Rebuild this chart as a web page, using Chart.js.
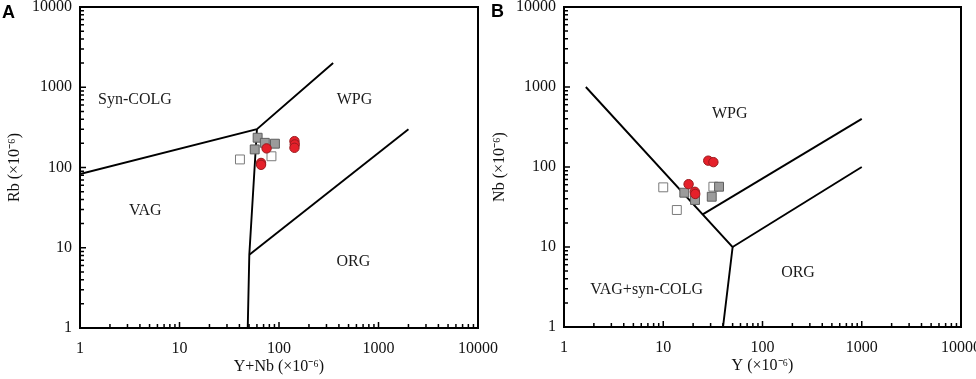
<!DOCTYPE html>
<html><head><meta charset="utf-8">
<script src="https://cdn.jsdelivr.net/npm/chart.js@4.4.0/dist/chart.umd.min.js"></script>
<style>
html,body{margin:0;padding:0;background:#fff;width:976px;height:379px;overflow:hidden;position:relative}
canvas{position:absolute}
#ca{left:-40px;top:-20px}
#cb{left:450px;top:-20px}
.lbl{position:absolute;font:bold 18px 'Liberation Sans',Arial,sans-serif;color:#000;line-height:18px}
</style></head><body>
<canvas id="cb" width="600" height="420"></canvas>
<canvas id="ca" width="600" height="420"></canvas>
<div class="lbl" style="left:2px;top:3px">A</div>
<div class="lbl" style="left:491px;top:2px">B</div>
<script>
// ---- axes ----
const AXIS_MIN = 1, AXIS_MAX = 10000;
const MAJOR_TICKS = [1, 10, 100, 1000, 10000];
const MINOR_MULT = [2, 3, 4, 5, 6, 7, 8, 9];

// ---- Panel A: Rb vs Y+Nb ----
const A_RED_X = [75, 66, 66, 143, 144, 143];
const A_RED_Y = [173, 114, 108, 213, 194, 176];
const A_GRAY_X = [61, 57, 91, 72];
const A_GRAY_Y = [235, 168, 198, 203];
const A_OPEN_X = [40.5, 84];
const A_OPEN_Y = [126, 138];
const A_LINE1_X = [1, 60, 350];
const A_LINE1_Y = [83, 300, 2000];
const A_LINE2_X = [48.5, 50.3, 60];
const A_LINE2_Y = [1, 8.2, 300];
const A_LINE3_X = [50.3, 2000];
const A_LINE3_Y = [8.2, 300];
const A_REGION_TEXT = ['Syn-COLG', 'WPG', 'VAG', 'ORG'];
const A_REGION_X = [3.57, 574, 4.53, 558];
const A_REGION_Y = [693, 693, 29, 6.6];

// ---- Panel B: Nb vs Y ----
const B_RED_X = [28.4, 32, 18, 20.8, 21];
const B_RED_Y = [120, 115, 61, 49, 46];
const B_GRAY_X = [16.3, 20.9, 30.8, 36.5];
const B_GRAY_Y = [47.7, 38.7, 42.5, 56.7];
const B_OPEN_X = [10, 13.7, 32];
const B_OPEN_Y = [55.7, 29, 56.7];
const B_LINE1_X = [1.66, 50, 40];
const B_LINE1_Y = [1000, 10, 1];
const B_LINE2_X = [50, 1000];
const B_LINE2_Y = [10, 100];
const B_LINE3_X = [25, 1000];
const B_LINE3_Y = [25.6, 400];
const B_REGION_TEXT = ['WPG', 'ORG', 'VAG+syn-COLG'];
const B_REGION_X = [46.7, 228, 6.8];
const B_REGION_Y = [469, 4.77, 2.9];

const SERIF = '"Liberation Serif", "Times New Roman", serif';
const zip = (xs, ys) => xs.map((x, i) => ({x, y: ys[i]}));

function pointsDS(xs, ys, kind) {
  const st = {
    red: {pointStyle: 'circle', pointRadius: 4.7, backgroundColor: '#e5202a', borderColor: '#9a1a1e'},
    gray: {pointStyle: 'rect', pointRadius: 6.3, backgroundColor: '#9b9b9b', borderColor: '#5e5e5e'},
    open: {pointStyle: 'rect', pointRadius: 6.3, backgroundColor: '#ffffff', borderColor: '#7a7a7a'}
  }[kind];
  return Object.assign({data: zip(xs, ys), showLine: false, borderWidth: 1, pointHoverRadius: st.pointRadius}, st);
}
function lineDS(xs, ys) {
  return {data: zip(xs, ys), showLine: true, borderColor: '#000', borderWidth: 1.9, pointRadius: 0, fill: false, tension: 0};
}

function decorPlugin(texts, rx, ry) {
  return {
    id: 'decor',
    beforeDatasetsDraw(chart) {
      const {ctx, scales: {x, y}} = chart;
      ctx.save();
      ctx.font = '16px ' + SERIF;
      ctx.fillStyle = '#1a1a1a';
      ctx.textAlign = 'center';
      ctx.textBaseline = 'middle';
      texts.forEach((t, i) => ctx.fillText(t, x.getPixelForValue(rx[i]), y.getPixelForValue(ry[i])));
      ctx.restore();
    },
    afterDatasetsDraw(chart) {
      const {ctx, chartArea: a, scales: {x, y}} = chart;
      ctx.save();
      ctx.strokeStyle = '#000';
      ctx.lineWidth = 1.5;
      ctx.beginPath();
      for (let base = AXIS_MIN; base < AXIS_MAX; base *= 10) {
        [1].concat(MINOR_MULT).forEach(m => {
          const v = base * m;
          const len = m === 1 ? 6 : 4;
          const px = x.getPixelForValue(v);
          ctx.moveTo(px, a.bottom); ctx.lineTo(px, a.bottom - len);
          const py = y.getPixelForValue(v);
          ctx.moveTo(a.left, py); ctx.lineTo(a.left + len, py);
        });
      }
      ctx.stroke();
      ctx.lineWidth = 2;
      ctx.strokeRect(a.left, a.top, a.right - a.left, a.bottom - a.top);
      ctx.restore();
    }
  };
}

function axis(pos, titleText, titlePad, labelPad) {
  return {
    type: 'logarithmic', position: pos, min: AXIS_MIN, max: AXIS_MAX,
    afterBuildTicks: s => { s.ticks = MAJOR_TICKS.map(v => ({value: v, major: true})); },
    afterFit: s => { if (pos === 'bottom') s.height = 51; else s.width = 80; },
    grid: {display: false, drawTicks: false},
    border: {display: false},
    ticks: {padding: labelPad, color: '#111', autoSkip: false, maxRotation: 0,
      font: {family: SERIF, size: 16}, callback: v => String(v)},
    title: {display: true, text: titleText, color: '#111', font: {family: SERIF, size: 16},
      padding: pos === 'bottom' ? {top: 0, bottom: titlePad} : {top: titlePad, bottom: 0}}
  };
}

function makeChart(id, datasets, pad, xTitle, yTitle, yTitlePad, plugin) {
  return new Chart(document.getElementById(id), {
    type: 'scatter',
    data: {datasets},
    options: {
      responsive: false, animation: false, devicePixelRatio: 1,
      layout: {padding: pad},
      plugins: {legend: {display: false}, tooltip: {enabled: false}},
      scales: {x: axis('bottom', xTitle, 2.4, 11), y: axis('left', yTitle, yTitlePad, 8)}
    },
    plugins: [plugin]
  });
}

makeChart('ca', [
  pointsDS(A_RED_X, A_RED_Y, 'red'),
  pointsDS(A_GRAY_X, A_GRAY_Y, 'gray'),
  pointsDS(A_OPEN_X, A_OPEN_Y, 'open'),
  lineDS(A_LINE1_X, A_LINE1_Y),
  lineDS(A_LINE2_X, A_LINE2_Y),
  lineDS(A_LINE3_X, A_LINE3_Y)
], {left: 40, right: 82, top: 27, bottom: 21}, 'Y+Nb (×10⁻⁶)', 'Rb (×10⁻⁶)', 5.4,
  decorPlugin(A_REGION_TEXT, A_REGION_X, A_REGION_Y));

makeChart('cb', [
  pointsDS(B_RED_X, B_RED_Y, 'red'),
  pointsDS(B_GRAY_X, B_GRAY_Y, 'gray'),
  pointsDS(B_OPEN_X, B_OPEN_Y, 'open'),
  lineDS(B_LINE1_X, B_LINE1_Y),
  lineDS(B_LINE2_X, B_LINE2_Y),
  lineDS(B_LINE3_X, B_LINE3_Y)
], {left: 34, right: 89, top: 27, bottom: 22}, 'Y (×10⁻⁶)', 'Nb (×10⁻⁶)', 6.4,
  decorPlugin(B_REGION_TEXT, B_REGION_X, B_REGION_Y));
</script>
</body></html>
